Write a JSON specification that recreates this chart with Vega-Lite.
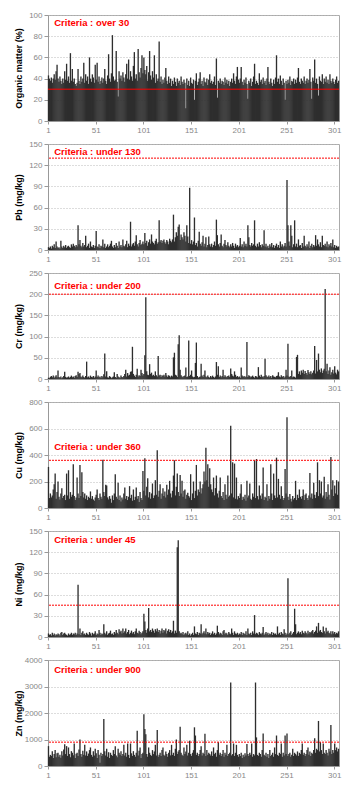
{
"$schema": "https://vega.github.io/schema/vega-lite/v6.json",
"padding": {"left": 13, "top": 10, "right": 8, "bottom": 3},
"background": "white",
"spacing": 4,
"config": {
  "view": {"stroke": "#aaaaaa", "strokeWidth": 1},
  "font": "Liberation Sans",
  "axisX": {"labelFontSize": 8, "labelColor": "#888888", "tickSize": 3, "tickColor": "#999999", "domainColor": "#999999", "labelAngle": 0, "grid": false, "labelPadding": 2, "labelOverlap": false},
  "axisY": {"labelFontSize": 8, "labelColor": "#888888", "tickSize": 4, "tickColor": "#999999", "domainColor": "#999999", "gridDash": [1, 2], "gridColor": "#bbbbbb", "titleFontSize": 9, "titleFontWeight": "bold", "titleColor": "#000000", "minExtent": 22, "maxExtent": 22, "titlePadding": 3, "labelPadding": 2, "labelOverlap": false, "format": "d"}
},
"data": {"values": [
{"n":1,"om":43,"pb":4,"cr":3,"cu":310,"ni":5,"zn":750},
{"n":2,"om":40,"pb":3,"cr":2,"cu":75,"ni":3,"zn":350},
{"n":3,"om":38,"pb":5,"cr":5,"cu":110,"ni":4,"zn":420},
{"n":4,"om":41,"pb":2,"cr":7,"cu":80,"ni":2,"zn":380},
{"n":5,"om":36,"pb":6,"cr":4,"cu":95,"ni":6,"zn":560},
{"n":6,"om":40,"pb":4,"cr":8,"cu":140,"ni":3,"zn":300},
{"n":7,"om":44,"pb":8,"cr":3,"cu":180,"ni":5,"zn":450},
{"n":8,"om":39,"pb":3,"cr":6,"cu":260,"ni":2,"zn":600},
{"n":9,"om":47,"pb":12,"cr":9,"cu":70,"ni":4,"zn":330},
{"n":10,"om":53,"pb":5,"cr":4,"cu":120,"ni":3,"zn":480},
{"n":11,"om":40,"pb":3,"cr":20,"cu":200,"ni":5,"zn":500},
{"n":12,"om":37,"pb":4,"cr":5,"cu":85,"ni":4,"zn":350},
{"n":13,"om":42,"pb":2,"cr":3,"cu":65,"ni":2,"zn":420},
{"n":14,"om":38,"pb":13,"cr":6,"cu":110,"ni":6,"zn":310},
{"n":15,"om":35,"pb":5,"cr":2,"cu":150,"ni":7,"zn":560},
{"n":16,"om":40,"pb":3,"cr":4,"cu":75,"ni":3,"zn":400},
{"n":17,"om":36,"pb":6,"cr":7,"cu":90,"ni":5,"zn":620},
{"n":18,"om":47,"pb":4,"cr":17,"cu":100,"ni":6,"zn":820},
{"n":19,"om":39,"pb":7,"cr":5,"cu":60,"ni":4,"zn":450},
{"n":20,"om":54,"pb":3,"cr":3,"cu":260,"ni":3,"zn":750},
{"n":21,"om":38,"pb":5,"cr":4,"cu":95,"ni":2,"zn":380},
{"n":22,"om":42,"pb":6,"cr":6,"cu":285,"ni":5,"zn":700},
{"n":23,"om":36,"pb":4,"cr":3,"cu":70,"ni":3,"zn":450},
{"n":24,"om":64,"pb":3,"cr":5,"cu":120,"ni":4,"zn":330},
{"n":25,"om":38,"pb":8,"cr":8,"cu":85,"ni":6,"zn":560},
{"n":26,"om":49,"pb":5,"cr":4,"cu":100,"ni":3,"zn":500},
{"n":27,"om":37,"pb":9,"cr":6,"cu":330,"ni":5,"zn":410},
{"n":28,"om":40,"pb":6,"cr":3,"cu":90,"ni":4,"zn":850},
{"n":29,"om":35,"pb":4,"cr":7,"cu":60,"ni":6,"zn":300},
{"n":30,"om":33,"pb":7,"cr":9,"cu":80,"ni":3,"zn":460},
{"n":31,"om":36,"pb":5,"cr":5,"cu":230,"ni":5,"zn":500},
{"n":32,"om":49,"pb":35,"cr":17,"cu":110,"ni":74,"zn":380},
{"n":33,"om":38,"pb":8,"cr":12,"cu":75,"ni":4,"zn":620},
{"n":34,"om":35,"pb":14,"cr":14,"cu":325,"ni":12,"zn":1000},
{"n":35,"om":42,"pb":6,"cr":6,"cu":90,"ni":3,"zn":450},
{"n":36,"om":37,"pb":4,"cr":4,"cu":270,"ni":6,"zn":350},
{"n":37,"om":40,"pb":10,"cr":8,"cu":120,"ni":8,"zn":580},
{"n":38,"om":55,"pb":5,"cr":5,"cu":80,"ni":4,"zn":420},
{"n":39,"om":36,"pb":7,"cr":3,"cu":110,"ni":5,"zn":800},
{"n":40,"om":44,"pb":20,"cr":7,"cu":70,"ni":3,"zn":400},
{"n":41,"om":38,"pb":4,"cr":41,"cu":95,"ni":6,"zn":550},
{"n":42,"om":42,"pb":6,"cr":4,"cu":60,"ni":4,"zn":380},
{"n":43,"om":35,"pb":9,"cr":6,"cu":85,"ni":3,"zn":470},
{"n":44,"om":60,"pb":3,"cr":3,"cu":75,"ni":7,"zn":600},
{"n":45,"om":40,"pb":12,"cr":8,"cu":125,"ni":5,"zn":700},
{"n":46,"om":37,"pb":5,"cr":5,"cu":70,"ni":2,"zn":420},
{"n":47,"om":44,"pb":4,"cr":4,"cu":90,"ni":6,"zn":350},
{"n":48,"om":41,"pb":7,"cr":7,"cu":65,"ni":4,"zn":560},
{"n":49,"om":36,"pb":3,"cr":3,"cu":55,"ni":5,"zn":400},
{"n":50,"om":53,"pb":6,"cr":6,"cu":80,"ni":8,"zn":650},
{"n":51,"om":39,"pb":27,"cr":20,"cu":100,"ni":3,"zn":480},
{"n":52,"om":55,"pb":5,"cr":5,"cu":140,"ni":5,"zn":300},
{"n":53,"om":37,"pb":4,"cr":8,"cu":75,"ni":4,"zn":600},
{"n":54,"om":42,"pb":8,"cr":4,"cu":60,"ni":10,"zn":420},
{"n":55,"om":35,"pb":3,"cr":6,"cu":110,"ni":6,"zn":120},
{"n":56,"om":38,"pb":6,"cr":3,"cu":85,"ni":3,"zn":500},
{"n":57,"om":41,"pb":5,"cr":7,"cu":70,"ni":5,"zn":380},
{"n":58,"om":36,"pb":15,"cr":4,"cu":365,"ni":4,"zn":450},
{"n":59,"om":40,"pb":4,"cr":11,"cu":120,"ni":18,"zn":1770},
{"n":60,"om":49,"pb":9,"cr":60,"cu":90,"ni":6,"zn":560},
{"n":61,"om":38,"pb":3,"cr":6,"cu":175,"ni":4,"zn":400},
{"n":62,"om":35,"pb":5,"cr":18,"cu":170,"ni":8,"zn":650},
{"n":63,"om":43,"pb":8,"cr":4,"cu":80,"ni":3,"zn":350},
{"n":64,"om":63,"pb":4,"cr":3,"cu":65,"ni":5,"zn":520},
{"n":65,"om":40,"pb":6,"cr":7,"cu":90,"ni":6,"zn":300},
{"n":66,"om":37,"pb":9,"cr":5,"cu":70,"ni":9,"zn":500},
{"n":67,"om":45,"pb":13,"cr":2,"cu":40,"ni":4,"zn":420},
{"n":68,"om":81,"pb":5,"cr":4,"cu":95,"ni":5,"zn":380},
{"n":69,"om":42,"pb":3,"cr":6,"cu":60,"ni":3,"zn":600},
{"n":70,"om":38,"pb":7,"cr":16,"cu":110,"ni":7,"zn":450},
{"n":71,"om":39,"pb":4,"cr":5,"cu":255,"ni":5,"zn":750},
{"n":72,"om":66,"pb":10,"cr":3,"cu":85,"ni":10,"zn":400},
{"n":73,"om":37,"pb":6,"cr":12,"cu":70,"ni":6,"zn":330},
{"n":74,"om":23,"pb":3,"cr":6,"cu":190,"ni":4,"zn":650},
{"n":75,"om":47,"pb":12,"cr":4,"cu":60,"ni":11,"zn":500},
{"n":76,"om":40,"pb":5,"cr":3,"cu":95,"ni":7,"zn":420},
{"n":77,"om":43,"pb":7,"cr":8,"cu":50,"ni":9,"zn":560},
{"n":78,"om":38,"pb":4,"cr":5,"cu":80,"ni":5,"zn":380},
{"n":79,"om":46,"pb":15,"cr":4,"cu":65,"ni":12,"zn":450},
{"n":80,"om":41,"pb":6,"cr":7,"cu":110,"ni":6,"zn":800},
{"n":81,"om":37,"pb":5,"cr":12,"cu":155,"ni":8,"zn":400},
{"n":82,"om":44,"pb":8,"cr":22,"cu":70,"ni":12,"zn":500},
{"n":83,"om":54,"pb":13,"cr":6,"cu":90,"ni":5,"zn":350},
{"n":84,"om":40,"pb":4,"cr":14,"cu":60,"ni":7,"zn":850},
{"n":85,"om":58,"pb":9,"cr":8,"cu":85,"ni":10,"zn":420},
{"n":86,"om":39,"pb":6,"cr":10,"cu":165,"ni":4,"zn":300},
{"n":87,"om":47,"pb":40,"cr":17,"cu":75,"ni":6,"zn":850},
{"n":88,"om":42,"pb":5,"cr":18,"cu":100,"ni":9,"zn":480},
{"n":89,"om":38,"pb":8,"cr":76,"cu":55,"ni":5,"zn":380},
{"n":90,"om":52,"pb":10,"cr":12,"cu":140,"ni":7,"zn":560},
{"n":91,"om":65,"pb":6,"cr":8,"cu":60,"ni":4,"zn":420},
{"n":92,"om":40,"pb":12,"cr":5,"cu":85,"ni":8,"zn":350},
{"n":93,"om":44,"pb":21,"cr":10,"cu":155,"ni":12,"zn":500},
{"n":94,"om":38,"pb":8,"cr":24,"cu":70,"ni":6,"zn":1330},
{"n":95,"om":68,"pb":5,"cr":6,"cu":90,"ni":5,"zn":400},
{"n":96,"om":46,"pb":10,"cr":9,"cu":45,"ni":9,"zn":580},
{"n":97,"om":41,"pb":14,"cr":7,"cu":120,"ni":7,"zn":700},
{"n":98,"om":50,"pb":7,"cr":22,"cu":75,"ni":4,"zn":300},
{"n":99,"om":62,"pb":9,"cr":14,"cu":60,"ni":6,"zn":450},
{"n":100,"om":45,"pb":12,"cr":8,"cu":280,"ni":8,"zn":500},
{"n":101,"om":60,"pb":8,"cr":12,"cu":130,"ni":33,"zn":1950},
{"n":102,"om":48,"pb":24,"cr":56,"cu":375,"ni":22,"zn":1400},
{"n":103,"om":44,"pb":10,"cr":193,"cu":95,"ni":10,"zn":1200},
{"n":104,"om":52,"pb":13,"cr":18,"cu":160,"ni":6,"zn":450},
{"n":105,"om":38,"pb":6,"cr":10,"cu":225,"ni":12,"zn":350},
{"n":106,"om":46,"pb":11,"cr":9,"cu":80,"ni":41,"zn":700},
{"n":107,"om":66,"pb":15,"cr":35,"cu":120,"ni":8,"zn":500},
{"n":108,"om":43,"pb":9,"cr":12,"cu":70,"ni":10,"zn":420},
{"n":109,"om":39,"pb":22,"cr":15,"cu":110,"ni":7,"zn":380},
{"n":110,"om":47,"pb":12,"cr":8,"cu":185,"ni":12,"zn":600},
{"n":111,"om":41,"pb":10,"cr":10,"cu":75,"ni":9,"zn":450},
{"n":112,"om":62,"pb":8,"cr":7,"cu":95,"ni":6,"zn":550},
{"n":113,"om":36,"pb":13,"cr":18,"cu":210,"ni":11,"zn":800},
{"n":114,"om":44,"pb":16,"cr":9,"cu":100,"ni":8,"zn":400},
{"n":115,"om":38,"pb":9,"cr":6,"cu":435,"ni":12,"zn":1360},
{"n":116,"om":40,"pb":11,"cr":54,"cu":85,"ni":7,"zn":350},
{"n":117,"om":75,"pb":42,"cr":8,"cu":130,"ni":10,"zn":420},
{"n":118,"om":37,"pb":12,"cr":10,"cu":180,"ni":5,"zn":500},
{"n":119,"om":42,"pb":14,"cr":5,"cu":70,"ni":9,"zn":380},
{"n":120,"om":35,"pb":10,"cr":9,"cu":110,"ni":12,"zn":600},
{"n":121,"om":39,"pb":13,"cr":7,"cu":150,"ni":6,"zn":700},
{"n":122,"om":36,"pb":15,"cr":10,"cu":90,"ni":10,"zn":420},
{"n":123,"om":41,"pb":11,"cr":6,"cu":125,"ni":8,"zn":380},
{"n":124,"om":50,"pb":9,"cr":14,"cu":80,"ni":12,"zn":550},
{"n":125,"om":38,"pb":14,"cr":8,"cu":175,"ni":5,"zn":450},
{"n":126,"om":35,"pb":12,"cr":5,"cu":100,"ni":9,"zn":350},
{"n":127,"om":42,"pb":8,"cr":9,"cu":140,"ni":11,"zn":500},
{"n":128,"om":36,"pb":16,"cr":7,"cu":205,"ni":7,"zn":600},
{"n":129,"om":40,"pb":13,"cr":4,"cu":110,"ni":10,"zn":400},
{"n":130,"om":33,"pb":11,"cr":8,"cu":80,"ni":6,"zn":800},
{"n":131,"om":38,"pb":15,"cr":6,"cu":130,"ni":8,"zn":420},
{"n":132,"om":35,"pb":50,"cr":51,"cu":245,"ni":23,"zn":500},
{"n":133,"om":41,"pb":12,"cr":62,"cu":360,"ni":5,"zn":380},
{"n":134,"om":37,"pb":18,"cr":10,"cu":95,"ni":9,"zn":650},
{"n":135,"om":33,"pb":25,"cr":8,"cu":160,"ni":6,"zn":1000},
{"n":136,"om":40,"pb":20,"cr":5,"cu":260,"ni":127,"zn":450},
{"n":137,"om":36,"pb":33,"cr":82,"cu":120,"ni":137,"zn":550},
{"n":138,"om":38,"pb":36,"cr":103,"cu":90,"ni":8,"zn":600},
{"n":139,"om":34,"pb":14,"cr":22,"cu":250,"ni":5,"zn":1480},
{"n":140,"om":42,"pb":22,"cr":9,"cu":110,"ni":6,"zn":500},
{"n":141,"om":37,"pb":18,"cr":6,"cu":205,"ni":4,"zn":420},
{"n":142,"om":35,"pb":15,"cr":4,"cu":85,"ni":7,"zn":380},
{"n":143,"om":39,"pb":25,"cr":7,"cu":130,"ni":3,"zn":700},
{"n":144,"om":36,"pb":20,"cr":8,"cu":140,"ni":5,"zn":450},
{"n":145,"om":12,"pb":12,"cr":27,"cu":70,"ni":6,"zn":550},
{"n":146,"om":40,"pb":35,"cr":5,"cu":100,"ni":4,"zn":800},
{"n":147,"om":34,"pb":19,"cr":6,"cu":115,"ni":8,"zn":400},
{"n":148,"om":38,"pb":10,"cr":91,"cu":90,"ni":3,"zn":500},
{"n":149,"om":33,"pb":88,"cr":7,"cu":80,"ni":5,"zn":950},
{"n":150,"om":41,"pb":9,"cr":10,"cu":255,"ni":2,"zn":450},
{"n":151,"om":36,"pb":14,"cr":20,"cu":60,"ni":4,"zn":380},
{"n":152,"om":35,"pb":8,"cr":6,"cu":110,"ni":6,"zn":500},
{"n":153,"om":39,"pb":12,"cr":4,"cu":200,"ni":3,"zn":600},
{"n":154,"om":20,"pb":46,"cr":5,"cu":75,"ni":15,"zn":1460},
{"n":155,"om":38,"pb":7,"cr":38,"cu":130,"ni":5,"zn":1150},
{"n":156,"om":45,"pb":10,"cr":86,"cu":325,"ni":4,"zn":420},
{"n":157,"om":34,"pb":5,"cr":7,"cu":95,"ni":7,"zn":500},
{"n":158,"om":37,"pb":13,"cr":3,"cu":140,"ni":3,"zn":380},
{"n":159,"om":40,"pb":26,"cr":5,"cu":120,"ni":6,"zn":450},
{"n":160,"om":46,"pb":9,"cr":6,"cu":200,"ni":5,"zn":600},
{"n":161,"om":35,"pb":6,"cr":36,"cu":110,"ni":18,"zn":750},
{"n":162,"om":38,"pb":11,"cr":8,"cu":150,"ni":4,"zn":400},
{"n":163,"om":33,"pb":20,"cr":5,"cu":180,"ni":6,"zn":500},
{"n":164,"om":41,"pb":5,"cr":10,"cu":275,"ni":8,"zn":450},
{"n":165,"om":37,"pb":9,"cr":20,"cu":200,"ni":5,"zn":1220},
{"n":166,"om":36,"pb":18,"cr":6,"cu":455,"ni":12,"zn":380},
{"n":167,"om":40,"pb":4,"cr":4,"cu":210,"ni":4,"zn":600},
{"n":168,"om":34,"pb":7,"cr":8,"cu":330,"ni":7,"zn":420},
{"n":169,"om":39,"pb":19,"cr":5,"cu":160,"ni":5,"zn":500},
{"n":170,"om":44,"pb":8,"cr":3,"cu":300,"ni":6,"zn":450},
{"n":171,"om":36,"pb":5,"cr":7,"cu":180,"ni":3,"zn":400},
{"n":172,"om":38,"pb":9,"cr":4,"cu":140,"ni":5,"zn":550},
{"n":173,"om":35,"pb":4,"cr":8,"cu":120,"ni":8,"zn":380},
{"n":174,"om":37,"pb":7,"cr":5,"cu":230,"ni":4,"zn":700},
{"n":175,"om":42,"pb":12,"cr":3,"cu":95,"ni":6,"zn":450},
{"n":176,"om":34,"pb":6,"cr":6,"cu":150,"ni":3,"zn":500},
{"n":177,"om":59,"pb":43,"cr":40,"cu":245,"ni":5,"zn":350},
{"n":178,"om":22,"pb":21,"cr":10,"cu":110,"ni":16,"zn":600},
{"n":179,"om":38,"pb":8,"cr":30,"cu":80,"ni":7,"zn":900},
{"n":180,"om":36,"pb":5,"cr":5,"cu":130,"ni":4,"zn":420},
{"n":181,"om":40,"pb":10,"cr":8,"cu":230,"ni":6,"zn":500},
{"n":182,"om":35,"pb":22,"cr":4,"cu":90,"ni":5,"zn":380},
{"n":183,"om":38,"pb":6,"cr":7,"cu":75,"ni":3,"zn":450},
{"n":184,"om":37,"pb":4,"cr":22,"cu":120,"ni":8,"zn":600},
{"n":185,"om":34,"pb":9,"cr":5,"cu":60,"ni":10,"zn":350},
{"n":186,"om":41,"pb":14,"cr":9,"cu":180,"ni":4,"zn":500},
{"n":187,"om":36,"pb":7,"cr":6,"cu":100,"ni":6,"zn":420},
{"n":188,"om":39,"pb":5,"cr":4,"cu":70,"ni":5,"zn":800},
{"n":189,"om":35,"pb":11,"cr":7,"cu":245,"ni":3,"zn":380},
{"n":190,"om":38,"pb":6,"cr":8,"cu":85,"ni":7,"zn":450},
{"n":191,"om":33,"pb":4,"cr":5,"cu":95,"ni":5,"zn":500},
{"n":192,"om":37,"pb":8,"cr":25,"cu":620,"ni":4,"zn":3150},
{"n":193,"om":40,"pb":5,"cr":12,"cu":110,"ni":12,"zn":400},
{"n":194,"om":36,"pb":10,"cr":8,"cu":345,"ni":6,"zn":450},
{"n":195,"om":45,"pb":6,"cr":6,"cu":80,"ni":3,"zn":850},
{"n":196,"om":38,"pb":3,"cr":18,"cu":335,"ni":8,"zn":380},
{"n":197,"om":35,"pb":9,"cr":10,"cu":70,"ni":5,"zn":500},
{"n":198,"om":42,"pb":5,"cr":5,"cu":230,"ni":4,"zn":800},
{"n":199,"om":51,"pb":7,"cr":7,"cu":65,"ni":6,"zn":420},
{"n":200,"om":39,"pb":4,"cr":4,"cu":90,"ni":3,"zn":350},
{"n":201,"om":36,"pb":6,"cr":6,"cu":75,"ni":5,"zn":450},
{"n":202,"om":40,"pb":17,"cr":3,"cu":110,"ni":4,"zn":380},
{"n":203,"om":51,"pb":5,"cr":27,"cu":180,"ni":7,"zn":500},
{"n":204,"om":37,"pb":8,"cr":8,"cu":60,"ni":3,"zn":300},
{"n":205,"om":34,"pb":4,"cr":5,"cu":85,"ni":6,"zn":420},
{"n":206,"om":39,"pb":12,"cr":7,"cu":70,"ni":5,"zn":350},
{"n":207,"om":36,"pb":6,"cr":4,"cu":100,"ni":4,"zn":480},
{"n":208,"om":41,"pb":9,"cr":6,"cu":55,"ni":8,"zn":400},
{"n":209,"om":35,"pb":5,"cr":87,"cu":205,"ni":3,"zn":830},
{"n":210,"om":21,"pb":35,"cr":5,"cu":80,"ni":12,"zn":450},
{"n":211,"om":38,"pb":18,"cr":9,"cu":95,"ni":5,"zn":380},
{"n":212,"om":36,"pb":7,"cr":7,"cu":185,"ni":4,"zn":500},
{"n":213,"om":40,"pb":5,"cr":4,"cu":70,"ni":6,"zn":420},
{"n":214,"om":33,"pb":10,"cr":6,"cu":60,"ni":3,"zn":850},
{"n":215,"om":37,"pb":6,"cr":8,"cu":110,"ni":8,"zn":350},
{"n":216,"om":42,"pb":8,"cr":5,"cu":85,"ni":5,"zn":450},
{"n":217,"om":54,"pb":42,"cr":3,"cu":360,"ni":31,"zn":400},
{"n":218,"om":35,"pb":6,"cr":7,"cu":75,"ni":4,"zn":3150},
{"n":219,"om":38,"pb":4,"cr":6,"cu":370,"ni":6,"zn":1080},
{"n":220,"om":36,"pb":9,"cr":4,"cu":90,"ni":5,"zn":420},
{"n":221,"om":34,"pb":5,"cr":28,"cu":65,"ni":3,"zn":380},
{"n":222,"om":45,"pb":11,"cr":8,"cu":170,"ni":7,"zn":500},
{"n":223,"om":37,"pb":7,"cr":5,"cu":95,"ni":5,"zn":450},
{"n":224,"om":39,"pb":4,"cr":10,"cu":70,"ni":4,"zn":350},
{"n":225,"om":35,"pb":8,"cr":6,"cu":110,"ni":6,"zn":600},
{"n":226,"om":41,"pb":6,"cr":4,"cu":305,"ni":14,"zn":1230},
{"n":227,"om":36,"pb":28,"cr":7,"cu":60,"ni":3,"zn":420},
{"n":228,"om":38,"pb":5,"cr":48,"cu":85,"ni":5,"zn":380},
{"n":229,"om":34,"pb":9,"cr":9,"cu":75,"ni":7,"zn":500},
{"n":230,"om":40,"pb":4,"cr":6,"cu":180,"ni":4,"zn":350},
{"n":231,"om":51,"pb":6,"cr":5,"cu":55,"ni":6,"zn":450},
{"n":232,"om":37,"pb":3,"cr":8,"cu":90,"ni":3,"zn":300},
{"n":233,"om":35,"pb":8,"cr":4,"cu":70,"ni":5,"zn":600},
{"n":234,"om":40,"pb":5,"cr":7,"cu":330,"ni":4,"zn":380},
{"n":235,"om":36,"pb":10,"cr":3,"cu":110,"ni":7,"zn":420},
{"n":236,"om":33,"pb":4,"cr":9,"cu":60,"ni":3,"zn":500},
{"n":237,"om":39,"pb":7,"cr":6,"cu":260,"ni":6,"zn":350},
{"n":238,"om":35,"pb":3,"cr":5,"cu":95,"ni":4,"zn":700},
{"n":239,"om":41,"pb":6,"cr":4,"cu":75,"ni":5,"zn":450},
{"n":240,"om":62,"pb":9,"cr":7,"cu":380,"ni":3,"zn":1150},
{"n":241,"om":37,"pb":4,"cr":8,"cu":80,"ni":15,"zn":420},
{"n":242,"om":40,"pb":7,"cr":16,"cu":220,"ni":4,"zn":380},
{"n":243,"om":35,"pb":3,"cr":6,"cu":100,"ni":6,"zn":500},
{"n":244,"om":43,"pb":12,"cr":4,"cu":70,"ni":3,"zn":450},
{"n":245,"om":38,"pb":5,"cr":9,"cu":165,"ni":7,"zn":850},
{"n":246,"om":34,"pb":8,"cr":5,"cu":90,"ni":5,"zn":350},
{"n":247,"om":40,"pb":4,"cr":7,"cu":60,"ni":4,"zn":500},
{"n":248,"om":36,"pb":6,"cr":3,"cu":75,"ni":11,"zn":400},
{"n":249,"om":20,"pb":10,"cr":6,"cu":295,"ni":6,"zn":1150},
{"n":250,"om":38,"pb":5,"cr":22,"cu":110,"ni":3,"zn":450},
{"n":251,"om":35,"pb":99,"cr":8,"cu":685,"ni":5,"zn":1230},
{"n":252,"om":39,"pb":35,"cr":83,"cu":85,"ni":83,"zn":380},
{"n":253,"om":36,"pb":12,"cr":6,"cu":60,"ni":4,"zn":450},
{"n":254,"om":42,"pb":6,"cr":5,"cu":105,"ni":6,"zn":500},
{"n":255,"om":34,"pb":35,"cr":7,"cu":70,"ni":8,"zn":350},
{"n":256,"om":38,"pb":20,"cr":20,"cu":50,"ni":3,"zn":420},
{"n":257,"om":37,"pb":4,"cr":4,"cu":90,"ni":5,"zn":650},
{"n":258,"om":40,"pb":8,"cr":6,"cu":65,"ni":7,"zn":380},
{"n":259,"om":35,"pb":42,"cr":5,"cu":75,"ni":40,"zn":500},
{"n":260,"om":39,"pb":5,"cr":3,"cu":205,"ni":18,"zn":450},
{"n":261,"om":36,"pb":9,"cr":52,"cu":60,"ni":4,"zn":400},
{"n":262,"om":41,"pb":4,"cr":57,"cu":100,"ni":6,"zn":550},
{"n":263,"om":50,"pb":15,"cr":12,"cu":75,"ni":8,"zn":380},
{"n":264,"om":37,"pb":6,"cr":18,"cu":140,"ni":5,"zn":500},
{"n":265,"om":35,"pb":7,"cr":10,"cu":85,"ni":7,"zn":450},
{"n":266,"om":40,"pb":3,"cr":20,"cu":70,"ni":4,"zn":600},
{"n":267,"om":38,"pb":10,"cr":15,"cu":90,"ni":9,"zn":850},
{"n":268,"om":36,"pb":5,"cr":22,"cu":140,"ni":6,"zn":420},
{"n":269,"om":42,"pb":20,"cr":12,"cu":60,"ni":5,"zn":500},
{"n":270,"om":35,"pb":6,"cr":19,"cu":100,"ni":8,"zn":380},
{"n":271,"om":38,"pb":4,"cr":14,"cu":110,"ni":6,"zn":450},
{"n":272,"om":40,"pb":8,"cr":10,"cu":75,"ni":4,"zn":600},
{"n":273,"om":36,"pb":5,"cr":21,"cu":60,"ni":9,"zn":700},
{"n":274,"om":39,"pb":12,"cr":16,"cu":95,"ni":5,"zn":420},
{"n":275,"om":49,"pb":3,"cr":12,"cu":265,"ni":7,"zn":550},
{"n":276,"om":37,"pb":6,"cr":18,"cu":80,"ni":6,"zn":380},
{"n":277,"om":21,"pb":9,"cr":11,"cu":110,"ni":8,"zn":500},
{"n":278,"om":41,"pb":4,"cr":15,"cu":70,"ni":10,"zn":450},
{"n":279,"om":38,"pb":7,"cr":20,"cu":190,"ni":5,"zn":600},
{"n":280,"om":58,"pb":5,"cr":78,"cu":100,"ni":7,"zn":1050},
{"n":281,"om":36,"pb":21,"cr":13,"cu":75,"ni":9,"zn":500},
{"n":282,"om":40,"pb":6,"cr":45,"cu":120,"ni":15,"zn":650},
{"n":283,"om":35,"pb":15,"cr":18,"cu":345,"ni":6,"zn":600},
{"n":284,"om":24,"pb":8,"cr":60,"cu":90,"ni":20,"zn":1700},
{"n":285,"om":42,"pb":5,"cr":22,"cu":210,"ni":8,"zn":550},
{"n":286,"om":38,"pb":11,"cr":16,"cu":110,"ni":10,"zn":900},
{"n":287,"om":37,"pb":4,"cr":25,"cu":200,"ni":7,"zn":600},
{"n":288,"om":44,"pb":20,"cr":14,"cu":80,"ni":6,"zn":450},
{"n":289,"om":35,"pb":7,"cr":20,"cu":95,"ni":15,"zn":850},
{"n":290,"om":40,"pb":6,"cr":24,"cu":235,"ni":8,"zn":500},
{"n":291,"om":37,"pb":9,"cr":212,"cu":70,"ni":5,"zn":450},
{"n":292,"om":42,"pb":5,"cr":18,"cu":120,"ni":13,"zn":600},
{"n":293,"om":36,"pb":12,"cr":36,"cu":85,"ni":7,"zn":500},
{"n":294,"om":39,"pb":4,"cr":12,"cu":180,"ni":9,"zn":400},
{"n":295,"om":35,"pb":8,"cr":20,"cu":100,"ni":6,"zn":650},
{"n":296,"om":44,"pb":6,"cr":28,"cu":65,"ni":5,"zn":550},
{"n":297,"om":38,"pb":10,"cr":10,"cu":385,"ni":8,"zn":1550},
{"n":298,"om":36,"pb":5,"cr":16,"cu":140,"ni":4,"zn":450},
{"n":299,"om":40,"pb":15,"cr":22,"cu":210,"ni":8,"zn":600},
{"n":300,"om":37,"pb":4,"cr":13,"cu":90,"ni":5,"zn":500},
{"n":301,"om":35,"pb":7,"cr":30,"cu":170,"ni":7,"zn":850},
{"n":302,"om":39,"pb":3,"cr":15,"cu":110,"ni":4,"zn":600},
{"n":303,"om":42,"pb":6,"cr":11,"cu":210,"ni":6,"zn":700},
{"n":304,"om":36,"pb":4,"cr":22,"cu":100,"ni":5,"zn":550},
{"n":305,"om":38,"pb":5,"cr":18,"cu":200,"ni":8,"zn":650}
]},
"vconcat": [
{"width": 291, "height": 106, "layer": [
 {"mark": {"type": "bar", "color": "#2e2e2e", "width": {"band": 1.4}}, "encoding": {
   "x": {"field": "n", "type": "ordinal", "scale": {"paddingInner": 0, "paddingOuter": 0}, "axis": {"values": [1,51,101,151,201,251,301], "title": null}},
   "y": {"field": "om", "type": "quantitative", "scale": {"domain": [0, 100], "nice": false}, "axis": {"values": [0,20,40,60,80,100], "tickCount": 6, "title": "Organic matter (%)", "grid": true}}}},
 {"data": {"values": [{"c": 30}]}, "mark": {"type": "rule", "color": "#ff0000", "strokeWidth": 1}, "encoding": {"y": {"field": "c", "type": "quantitative", "axis": {"values": [0,20,40,60,80,100], "tickCount": 6, "title": "Organic matter (%)", "grid": true}}}},
 {"data": {"values": [{"n": 7, "c": 92, "t": "Criteria : over 30"}]}, "mark": {"type": "text", "align": "left", "baseline": "middle", "color": "#ff0000", "fontWeight": "bold", "fontSize": 9.5}, "encoding": {"x": {"field": "n", "type": "ordinal", "axis": {"values": [1,51,101,151,201,251,301], "title": null}}, "y": {"field": "c", "type": "quantitative", "axis": {"values": [0,20,40,60,80,100], "tickCount": 6, "title": "Organic matter (%)", "grid": true}}, "text": {"field": "t"}}}
]},
{"width": 291, "height": 106, "layer": [
 {"mark": {"type": "bar", "color": "#2e2e2e", "width": {"band": 1.4}}, "encoding": {
   "x": {"field": "n", "type": "ordinal", "scale": {"paddingInner": 0, "paddingOuter": 0}, "axis": {"values": [1,51,101,151,201,251,301], "title": null}},
   "y": {"field": "pb", "type": "quantitative", "scale": {"domain": [0, 150], "nice": false}, "axis": {"values": [0,30,60,90,120,150], "tickCount": 6, "title": "Pb (mg/kg)", "grid": true}}}},
 {"data": {"values": [{"c": 130}]}, "mark": {"type": "rule", "color": "#ff0000", "strokeWidth": 1, "strokeDash": [2, 1]}, "encoding": {"y": {"field": "c", "type": "quantitative", "axis": {"values": [0,30,60,90,120,150], "tickCount": 6, "title": "Pb (mg/kg)", "grid": true}}}},
 {"data": {"values": [{"n": 7, "c": 139, "t": "Criteria : under 130"}]}, "mark": {"type": "text", "align": "left", "baseline": "middle", "color": "#ff0000", "fontWeight": "bold", "fontSize": 9.5}, "encoding": {"x": {"field": "n", "type": "ordinal", "axis": {"values": [1,51,101,151,201,251,301], "title": null}}, "y": {"field": "c", "type": "quantitative", "axis": {"values": [0,30,60,90,120,150], "tickCount": 6, "title": "Pb (mg/kg)", "grid": true}}, "text": {"field": "t"}}}
]},
{"width": 291, "height": 106, "layer": [
 {"mark": {"type": "bar", "color": "#2e2e2e", "width": {"band": 1.4}}, "encoding": {
   "x": {"field": "n", "type": "ordinal", "scale": {"paddingInner": 0, "paddingOuter": 0}, "axis": {"values": [1,51,101,151,201,251,301], "title": null}},
   "y": {"field": "cr", "type": "quantitative", "scale": {"domain": [0, 250], "nice": false}, "axis": {"values": [0,50,100,150,200,250], "tickCount": 6, "title": "Cr (mg/kg)", "grid": true}}}},
 {"data": {"values": [{"c": 200}]}, "mark": {"type": "rule", "color": "#ff0000", "strokeWidth": 1, "strokeDash": [2, 1]}, "encoding": {"y": {"field": "c", "type": "quantitative", "axis": {"values": [0,50,100,150,200,250], "tickCount": 6, "title": "Cr (mg/kg)", "grid": true}}}},
 {"data": {"values": [{"n": 7, "c": 220, "t": "Criteria : under 200"}]}, "mark": {"type": "text", "align": "left", "baseline": "middle", "color": "#ff0000", "fontWeight": "bold", "fontSize": 9.5}, "encoding": {"x": {"field": "n", "type": "ordinal", "axis": {"values": [1,51,101,151,201,251,301], "title": null}}, "y": {"field": "c", "type": "quantitative", "axis": {"values": [0,50,100,150,200,250], "tickCount": 6, "title": "Cr (mg/kg)", "grid": true}}, "text": {"field": "t"}}}
]},
{"width": 291, "height": 106, "layer": [
 {"mark": {"type": "bar", "color": "#2e2e2e", "width": {"band": 1.4}}, "encoding": {
   "x": {"field": "n", "type": "ordinal", "scale": {"paddingInner": 0, "paddingOuter": 0}, "axis": {"values": [1,51,101,151,201,251,301], "title": null}},
   "y": {"field": "cu", "type": "quantitative", "scale": {"domain": [0, 800], "nice": false}, "axis": {"values": [0,200,400,600,800], "tickCount": 5, "title": "Cu (mg/kg)", "grid": true}}}},
 {"data": {"values": [{"c": 360}]}, "mark": {"type": "rule", "color": "#ff0000", "strokeWidth": 1, "strokeDash": [2, 1]}, "encoding": {"y": {"field": "c", "type": "quantitative", "axis": {"values": [0,200,400,600,800], "tickCount": 5, "title": "Cu (mg/kg)", "grid": true}}}},
 {"data": {"values": [{"n": 7, "c": 457, "t": "Criteria : under 360"}]}, "mark": {"type": "text", "align": "left", "baseline": "middle", "color": "#ff0000", "fontWeight": "bold", "fontSize": 9.5}, "encoding": {"x": {"field": "n", "type": "ordinal", "axis": {"values": [1,51,101,151,201,251,301], "title": null}}, "y": {"field": "c", "type": "quantitative", "axis": {"values": [0,200,400,600,800], "tickCount": 5, "title": "Cu (mg/kg)", "grid": true}}, "text": {"field": "t"}}}
]},
{"width": 291, "height": 106, "layer": [
 {"mark": {"type": "bar", "color": "#2e2e2e", "width": {"band": 1.4}}, "encoding": {
   "x": {"field": "n", "type": "ordinal", "scale": {"paddingInner": 0, "paddingOuter": 0}, "axis": {"values": [1,51,101,151,201,251,301], "title": null}},
   "y": {"field": "ni", "type": "quantitative", "scale": {"domain": [0, 150], "nice": false}, "axis": {"values": [0,30,60,90,120,150], "tickCount": 6, "title": "Ni (mg/kg)", "grid": true}}}},
 {"data": {"values": [{"c": 45}]}, "mark": {"type": "rule", "color": "#ff0000", "strokeWidth": 1, "strokeDash": [2, 1]}, "encoding": {"y": {"field": "c", "type": "quantitative", "axis": {"values": [0,30,60,90,120,150], "tickCount": 6, "title": "Ni (mg/kg)", "grid": true}}}},
 {"data": {"values": [{"n": 7, "c": 137, "t": "Criteria : under 45"}]}, "mark": {"type": "text", "align": "left", "baseline": "middle", "color": "#ff0000", "fontWeight": "bold", "fontSize": 9.5}, "encoding": {"x": {"field": "n", "type": "ordinal", "axis": {"values": [1,51,101,151,201,251,301], "title": null}}, "y": {"field": "c", "type": "quantitative", "axis": {"values": [0,30,60,90,120,150], "tickCount": 6, "title": "Ni (mg/kg)", "grid": true}}, "text": {"field": "t"}}}
]},
{"width": 291, "height": 106, "layer": [
 {"mark": {"type": "bar", "color": "#2e2e2e", "width": {"band": 1.4}}, "encoding": {
   "x": {"field": "n", "type": "ordinal", "scale": {"paddingInner": 0, "paddingOuter": 0}, "axis": {"values": [1,51,101,151,201,251,301], "title": null}},
   "y": {"field": "zn", "type": "quantitative", "scale": {"domain": [0, 4000], "nice": false}, "axis": {"values": [0,1000,2000,3000,4000], "tickCount": 5, "title": "Zn (mg/kg)", "grid": true}}}},
 {"data": {"values": [{"c": 900}]}, "mark": {"type": "rule", "color": "#ff0000", "strokeWidth": 1, "strokeDash": [2, 1]}, "encoding": {"y": {"field": "c", "type": "quantitative", "axis": {"values": [0,1000,2000,3000,4000], "tickCount": 5, "title": "Zn (mg/kg)", "grid": true}}}},
 {"data": {"values": [{"n": 7, "c": 3630, "t": "Criteria : under 900"}]}, "mark": {"type": "text", "align": "left", "baseline": "middle", "color": "#ff0000", "fontWeight": "bold", "fontSize": 9.5}, "encoding": {"x": {"field": "n", "type": "ordinal", "axis": {"values": [1,51,101,151,201,251,301], "title": null}}, "y": {"field": "c", "type": "quantitative", "axis": {"values": [0,1000,2000,3000,4000], "tickCount": 5, "title": "Zn (mg/kg)", "grid": true}}, "text": {"field": "t"}}}
]}
]
}
